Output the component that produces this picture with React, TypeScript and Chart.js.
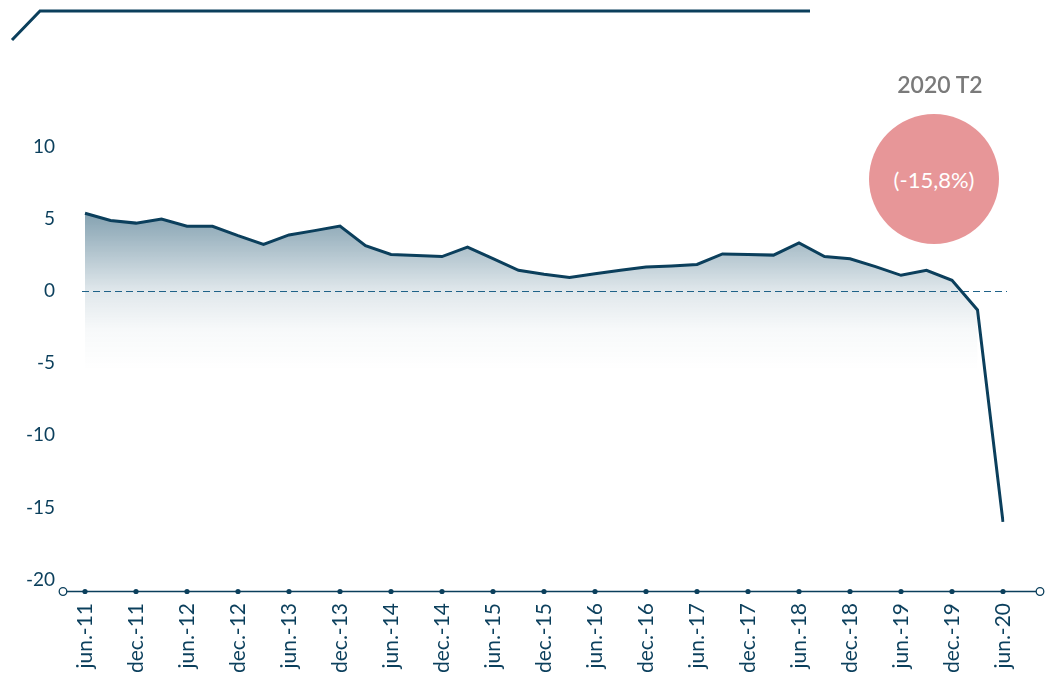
import React, { useEffect, useRef } from 'react';
import { Chart, registerables } from 'chart.js';

Chart.register(...registerables);

const categories = [
  'jun.-11', 'sep.-11', 'dec.-11',
  'mar.-12', 'jun.-12', 'sep.-12', 'dec.-12',
  'mar.-13', 'jun.-13', 'sep.-13', 'dec.-13',
  'mar.-14', 'jun.-14', 'sep.-14', 'dec.-14',
  'mar.-15', 'jun.-15', 'sep.-15', 'dec.-15',
  'mar.-16', 'jun.-16', 'sep.-16', 'dec.-16',
  'mar.-17', 'jun.-17', 'sep.-17', 'dec.-17',
  'mar.-18', 'jun.-18', 'sep.-18', 'dec.-18',
  'mar.-19', 'jun.-19', 'sep.-19', 'dec.-19',
  'mar.-20', 'jun.-20',
];

const values = [
  5.4, 4.9, 4.72,
  5.0, 4.5, 4.5, 3.85,
  3.25, 3.9, 4.2, 4.52,
  3.15, 2.55, 2.48, 2.4,
  3.05, 2.25, 1.45, 1.18,
  0.95, 1.2, 1.45, 1.68,
  1.75, 1.85, 2.58, 2.55,
  2.5, 3.35, 2.4, 2.25,
  1.7, 1.1, 1.45, 0.75,
  -1.3, -16.0,
];

// shaded area stops before the last (collapse) quarter
const areaValues = values.map((v, i) => (i === values.length - 1 ? null : v));

const yTicks = [10, 5, 0, -5, -10, -15, -20];
const highlightPeriod = '2020 T2';
const highlightText = '(-15,8%)';

const NAVY = '#0b3f5c';
const FONT = 'Lato, "Noto Sans", "DejaVu Sans", sans-serif';

export default function App() {
  const ref = useRef<HTMLCanvasElement>(null);

  useEffect(() => {
    const canvas = ref.current;
    if (!canvas) return;

    const decor = {
      id: 'decor',
      afterDatasetDraw(chart: any, args: any) {
        if (args.index !== 1) return;
        const { ctx, chartArea } = chart;
        const y0 = Math.round(chart.scales.y.getPixelForValue(0)) + 0.5;
        ctx.save();
        ctx.strokeStyle = '#1f6288';
        ctx.lineWidth = 1.2;
        ctx.setLineDash([7, 4]);
        ctx.beginPath();
        ctx.moveTo(chartArea.left - 3, y0);
        ctx.lineTo(chartArea.right + 4, y0);
        ctx.stroke();
        ctx.restore();
      },
      afterDraw(chart: any) {
        const { ctx, chartArea } = chart;
        const xs = chart.scales.x;
        ctx.save();
        // top decorative rule
        ctx.strokeStyle = NAVY;
        ctx.lineWidth = 3;
        ctx.lineJoin = 'miter';
        ctx.beginPath();
        ctx.moveTo(12, 40);
        ctx.lineTo(40, 11);
        ctx.lineTo(810, 11);
        ctx.stroke();

        // x axis line
        const ay = Math.round(chartArea.bottom) + 0.5;
        ctx.lineWidth = 1.5;
        ctx.beginPath();
        ctx.moveTo(67, ay);
        ctx.lineTo(1036, ay);
        ctx.stroke();
        // end circles
        ctx.fillStyle = '#ffffff';
        ctx.lineWidth = 1.3;
        [63, 1040].forEach((cx) => {
          ctx.beginPath();
          ctx.arc(cx, ay, 3.8, 0, Math.PI * 2);
          ctx.fill();
          ctx.stroke();
        });
        // tick dots
        ctx.fillStyle = NAVY;
        categories.forEach((_, i) => {
          if (i % 2 !== 0) return;
          const px = xs.getPixelForValue(i);
          ctx.beginPath();
          ctx.arc(px, ay, 2.6, 0, Math.PI * 2);
          ctx.fill();
        });
        ctx.restore();
      },
    };

    const chart = new Chart(canvas, {
      type: 'line',
      data: {
        labels: categories,
        datasets: [
          {
            data: values,
            borderColor: NAVY,
            borderWidth: 3,
            pointRadius: 0,
            tension: 0,
            fill: false,
            borderJoinStyle: 'miter',
          },
          {
            data: areaValues as any,
            borderWidth: 0,
            borderColor: 'rgba(0,0,0,0)',
            pointRadius: 0,
            tension: 0,
            fill: 'start',
            backgroundColor: (c: any) => {
              const ch = c.chart;
              const { ctx, chartArea, scales } = ch;
              if (!chartArea || !scales.y) return 'rgba(0,61,93,0.2)';
              const top = scales.y.getPixelForValue(6);
              const bot = scales.y.getPixelForValue(-5.5);
              const g = ctx.createLinearGradient(0, top, 0, bot);
              g.addColorStop(0, 'rgba(0,61,93,0.52)');
              g.addColorStop(0.52, 'rgba(0,61,93,0.12)');
              g.addColorStop(0.75, 'rgba(0,61,93,0.03)');
              g.addColorStop(1, 'rgba(0,61,93,0)');
              return g;
            },
          },
        ],
      },
      options: {
        animation: false,
        responsive: false,
        maintainAspectRatio: false,
        layout: { padding: { top: 147, right: 43, left: 0, bottom: 0 } },
        plugins: {
          legend: { display: false },
          tooltip: { enabled: false },
        },
        scales: {
          x: {
            type: 'category',
            offset: false,
            grid: { display: false, drawTicks: false },
            border: { display: false },
            afterFit: (s: any) => {
              s.height = 88;
            },
            ticks: {
              autoSkip: false,
              minRotation: 90,
              maxRotation: 90,
              padding: 12,
              color: NAVY,
              font: { family: FONT, size: 21 },
              callback: (_v: any, i: number) => (i % 2 === 0 ? categories[i] : ''),
            },
          },
          y: {
            min: -20.8,
            max: 10,
            grid: { display: false, drawTicks: false },
            border: { display: false },
            afterFit: (s: any) => {
              s.width = 85;
            },
            afterBuildTicks: (s: any) => {
              s.ticks = yTicks.map((v) => ({ value: v }));
            },
            ticks: {
              padding: 30,
              color: NAVY,
              font: { family: FONT, size: 19 },
            },
          },
        },
      },
      plugins: [decor],
    });

    return () => chart.destroy();
  }, []);

  return (
    <div style={{ position: 'absolute', left: 0, top: 0, width: 1046, height: 679, background: '#fff', overflow: 'hidden' }}>
      <canvas ref={ref} width={1046} height={679} style={{ display: 'block' }} />
      <div
        style={{
          position: 'absolute',
          left: 870,
          top: 70,
          width: 140,
          textAlign: 'center',
          fontFamily: FONT,
          fontSize: 23,
          lineHeight: '28px',
          color: '#7a7a7a',
          fontWeight: 600,
        }}
      >
        {highlightPeriod}
      </div>
      <div
        style={{
          position: 'absolute',
          left: 869,
          top: 114,
          width: 130,
          height: 130,
          borderRadius: '50%',
          background: '#e79698',
          display: 'flex',
          alignItems: 'center',
          justifyContent: 'center',
          color: '#ffffff',
          fontFamily: FONT,
          fontSize: 22,
        }}
      >
        {highlightText}
      </div>
    </div>
  );
}
